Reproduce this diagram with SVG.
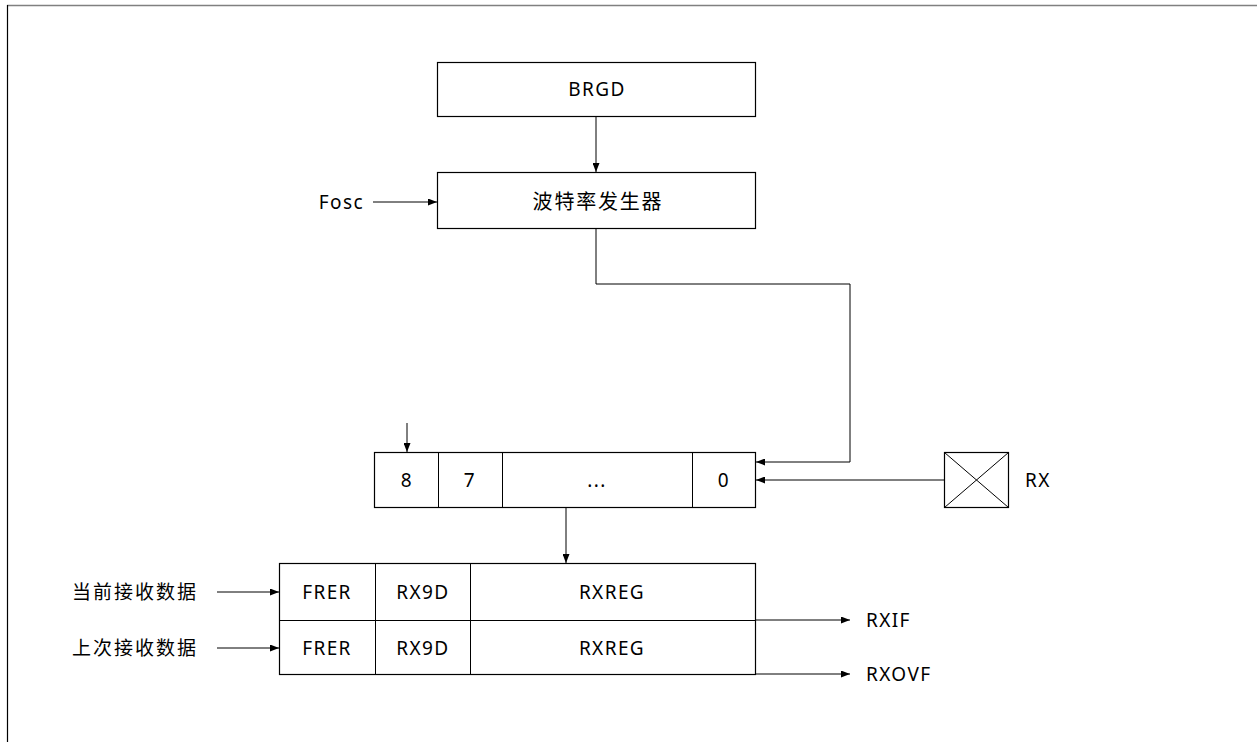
<svg xmlns="http://www.w3.org/2000/svg" width="1257" height="742" viewBox="0 0 1257 742">
<style>
.box{fill:#fff;stroke:#000;stroke-width:1.2}
.ln{fill:none;stroke:#000;stroke-width:1}
.t{font-family:"Noto Sans","Open Sans","Noto Sans CJK SC",sans-serif;font-size:19px;fill:#000;letter-spacing:1.4px}
.c{text-anchor:middle}
.cjk{font-family:"Noto Sans CJK SC","Noto Sans",sans-serif;font-size:19px;letter-spacing:2px}
.big{font-size:20px;letter-spacing:1.8px}
</style>
<defs>
<marker id="ah" markerWidth="9" markerHeight="7" refX="9" refY="3.5" orient="auto" markerUnits="userSpaceOnUse">
<path d="M0,0 L9,3.5 L0,7 Z" fill="#000"/>
</marker>
</defs>
<rect width="1257" height="742" fill="#fff"/>
<g id="frame">
<line x1="7" y1="5.5" x2="1257" y2="5.5" stroke="#808080" stroke-width="1.5"/>
<line x1="7.5" y1="5" x2="7.5" y2="742" stroke="#000" stroke-width="1.2"/>
</g>
<g id="connectors">
<line class="ln" x1="596" y1="116" x2="596" y2="172" marker-end="url(#ah)"/>
<line class="ln" x1="373" y1="202" x2="437" y2="202" marker-end="url(#ah)"/>
<polyline class="ln" points="596,228 596,284 850,284 850,462 756,462" marker-end="url(#ah)"/>
<line class="ln" x1="944" y1="480" x2="756" y2="480" marker-end="url(#ah)"/>
<line class="ln" x1="407" y1="423" x2="407" y2="452" marker-end="url(#ah)"/>
<line class="ln" x1="566" y1="507" x2="566" y2="563" marker-end="url(#ah)"/>
<line class="ln" x1="217" y1="592" x2="279" y2="592" marker-end="url(#ah)"/>
<line class="ln" x1="217" y1="648" x2="279" y2="648" marker-end="url(#ah)"/>
<line class="ln" x1="755" y1="620" x2="850" y2="620" marker-end="url(#ah)"/>
<line class="ln" x1="755" y1="674" x2="850" y2="674" marker-end="url(#ah)"/>
</g>
<g id="brgd">
<rect class="box" x="437.5" y="62.5" width="318" height="54"/>
<text class="t c" x="597" y="96">BRGD</text>
</g>
<g id="baud">
<rect class="box" x="437.5" y="172.5" width="318" height="56"/>
<text class="t cjk big c" x="598" y="209">波特率发生器</text>
</g>
<g id="fosc">
<text class="t" x="364" y="209" text-anchor="end">Fosc</text>
</g>
<g id="shift">
<rect class="box" x="374.5" y="452.5" width="381" height="55"/>
<line class="ln" x1="438.5" y1="452" x2="438.5" y2="507"/>
<line class="ln" x1="502.5" y1="452" x2="502.5" y2="507"/>
<line class="ln" x1="692.5" y1="452" x2="692.5" y2="507"/>
<text class="t c" x="407" y="487">8</text>
<text class="t c" x="470" y="487">7</text>
<text class="t c" x="597" y="487">...</text>
<text class="t c" x="724" y="487">0</text>
</g>
<g id="rx">
<rect class="box" x="944.5" y="452.5" width="64" height="55"/>
<line class="ln" x1="944.5" y1="452.5" x2="1008.5" y2="507.5"/>
<line class="ln" x1="1008.5" y1="452.5" x2="944.5" y2="507.5"/>
<text class="t" x="1025" y="487">RX</text>
</g>
<g id="regs">
<rect class="box" x="279.5" y="563.5" width="476" height="111"/>
<line class="ln" x1="279" y1="620.5" x2="755" y2="620.5"/>
<line class="ln" x1="375.5" y1="563" x2="375.5" y2="674"/>
<line class="ln" x1="470.5" y1="563" x2="470.5" y2="674"/>
<text class="t c" x="327" y="599">FRER</text>
<text class="t c" x="423" y="599">RX9D</text>
<text class="t c" x="612" y="599">RXREG</text>
<text class="t c" x="327" y="655">FRER</text>
<text class="t c" x="423" y="655">RX9D</text>
<text class="t c" x="612" y="655">RXREG</text>
</g>
<g id="labels">
<text class="t cjk" x="72" y="599">当前接收数据</text>
<text class="t cjk" x="72" y="655">上次接收数据</text>
<text class="t" x="866" y="627">RXIF</text>
<text class="t" x="866" y="681">RXOVF</text>
</g>
</svg>
